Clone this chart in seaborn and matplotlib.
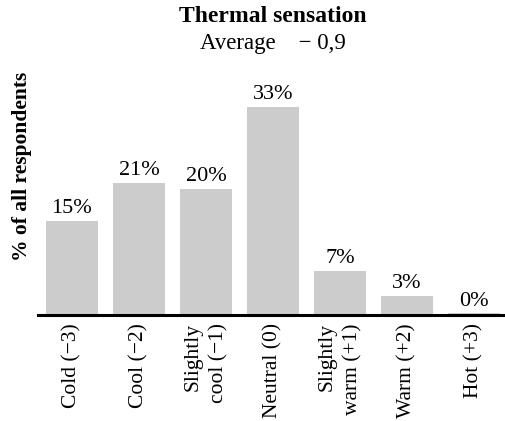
import matplotlib
matplotlib.use("Agg")
import matplotlib.pyplot as plt
import seaborn as sns
import pandas as pd

categories = ["Cold (\u22123)", "Cool (\u22122)", "Slightly\ncool (\u22121)", "Neutral (0)",
              "Slightly\nwarm (+1)", "Warm (+2)", "Hot (+3)"]
values = [15, 21, 20, 33, 7, 3, 0.25]
value_labels = ["15%", "21%", "20%", "33%", "7%", "3%", "0%"]
title = "Thermal sensation"
subtitle = "Average    \u2212 0,9"
ylabel = "% of all respondents"

sns.set_style("white")
plt.rcParams['font.family'] = ['Liberation Serif', 'DejaVu Serif']
plt.rcParams['text.color'] = 'black'
plt.rcParams['xtick.color'] = 'black'

df = pd.DataFrame({"cat": categories, "val": values})

fig = plt.figure(figsize=(5.05, 4.21), dpi=100)
ax = fig.add_axes([38/505, 1 - 315/421, (505-38)/505, (315-90)/421])
sns.barplot(data=df, x="cat", y="val", color="#cccccc", width=0.78, ax=ax,
            saturation=1, edgecolor="none")
ax.set_xlim(-0.507, 6.46)
ax.set_ylim(0, 225/6.3)
for s in ["left", "right", "top"]:
    ax.spines[s].set_visible(False)
ax.spines["bottom"].set_color("black")
ax.spines["bottom"].set_linewidth(2.2)
ax.set_yticks([])
ax.set_xlabel("")
ax.set_ylabel("")
ax.tick_params(axis="x", length=0, pad=6, colors="black")
ax.set_xticks(range(len(categories)))
ax.set_xticklabels(categories, rotation=90, fontsize=15.5, va="top", ha="center",
                   color="black")
for lbl in ax.get_xticklabels():
    lbl.set_multialignment("right")
    lbl.set_linespacing(1.45)

ax.bar_label(ax.containers[0], labels=value_labels, padding=2, fontsize=16, color="black")

fig.text(273/505, 1 - 17/421, title, ha="center", va="center", fontsize=17,
         fontweight="bold", color="black")
fig.text(273/505, 1 - 43/421, subtitle, ha="center", va="center", fontsize=16.5,
         color="black")
fig.text(22/505, 1 - 166/421, ylabel, ha="center", va="center", rotation=90,
         fontsize=15.5, fontweight="bold", color="black")

fig.savefig("out.png", dpi=100)
